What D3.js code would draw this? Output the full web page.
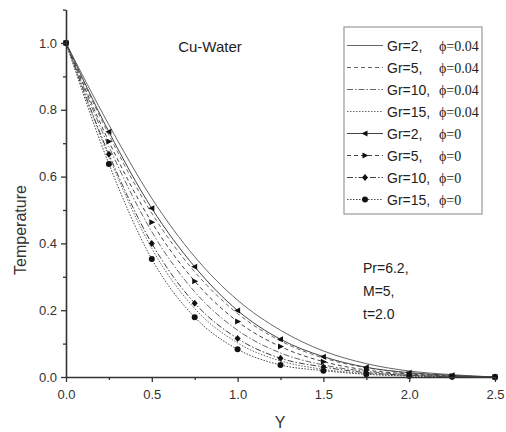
<!DOCTYPE html>
<html>
<head>
<meta charset="utf-8">
<script src="https://cdn.jsdelivr.net/npm/d3@7"></script>
<style>
  body { margin: 0; background: #fff; }
  svg { display: block; font-family: Arial, "Liberation Sans", sans-serif; }
</style>
</head>
<body>
<svg id="chart" width="506" height="432"></svg>
<script>
// Y positions shared by every curve
const yPos = [0, 0.25, 0.5, 0.75, 1.0, 1.25, 1.5, 1.75, 2.0, 2.25, 2.5];

// phi = 0.04 (no markers)
const gr2Phi004  = [1, 0.755, 0.535, 0.360, 0.230, 0.140, 0.078, 0.040, 0.018, 0.007, 0];
const gr5Phi004  = [1, 0.725, 0.490, 0.315, 0.190, 0.108, 0.057, 0.028, 0.012, 0.004, 0];
const gr10Phi004 = [1, 0.690, 0.435, 0.255, 0.140, 0.072, 0.036, 0.017, 0.007, 0.002, 0];
const gr15Phi004 = [1, 0.660, 0.385, 0.205, 0.102, 0.048, 0.023, 0.010, 0.004, 0.001, 0];

// phi = 0 (with markers)
const gr2Phi0  = [1, 0.734, 0.505, 0.330, 0.199, 0.113, 0.061, 0.029, 0.013, 0.005, 0];
const gr5Phi0  = [1, 0.705, 0.463, 0.287, 0.166, 0.091, 0.046, 0.021, 0.009, 0.003, 0];
const gr10Phi0 = [1, 0.667, 0.400, 0.221, 0.115, 0.056, 0.030, 0.013, 0.005, 0.001, 0];
const gr15Phi0 = [1, 0.638, 0.353, 0.179, 0.083, 0.036, 0.019, 0.008, 0.003, 0.001, 0];

const grLabels  = ["Gr=2,", "Gr=5,", "Gr=10,", "Gr=15,", "Gr=2,", "Gr=5,", "Gr=10,", "Gr=15,"];
const phiLabels = ["\u03d5=0.04", "\u03d5=0.04", "\u03d5=0.04", "\u03d5=0.04", "\u03d5=0", "\u03d5=0", "\u03d5=0", "\u03d5=0"];

const xTicks = [0, 0.5, 1.0, 1.5, 2.0, 2.5];
const yTicks = [0, 0.2, 0.4, 0.6, 0.8, 1.0];

const series = [
  { vals: gr2Phi004,  dash: null,          marker: null },
  { vals: gr5Phi004,  dash: "4,3",         marker: null },
  { vals: gr10Phi004, dash: "6,2,1.5,2",   marker: null },
  { vals: gr15Phi004, dash: "1.5,1.5",     marker: null },
  { vals: gr2Phi0,    dash: null,          marker: "left" },
  { vals: gr5Phi0,    dash: "4,3",         marker: "right" },
  { vals: gr10Phi0,   dash: "6,2,1.5,2",   marker: "diamond" },
  { vals: gr15Phi0,   dash: "1.5,1.5",     marker: "circle" }
];

const svg = d3.select("#chart");

const x = d3.scaleLinear().domain([0, 2.5]).range([66, 495]);
const y = d3.scaleLinear().domain([0, 1.1]).range([377, 9.6]);

const lineGen = d3.line()
  .x(d => x(d[0]))
  .y(d => y(d[1]))
  .curve(d3.curveMonotoneX);

function markerPath(type) {
  if (type === "left") return "M-3.5,0L2.5,-3L2.5,3Z";
  if (type === "right") return "M3.5,0L-2.5,-3L-2.5,3Z";
  if (type === "diamond") return "M0,-3.5L3,0L0,3.5L-3,0Z";
  return d3.symbol(d3.symbolCircle, 28)();
}

// curves
series.forEach(s => {
  const pts = yPos.map((v, i) => [v, s.vals[i]]);
  svg.append("path")
    .datum(pts)
    .attr("d", lineGen)
    .attr("fill", "none")
    .attr("stroke", s.marker ? "#444" : "#666")
    .attr("stroke-width", 1)
    .attr("stroke-dasharray", s.dash);
  if (s.marker) {
    svg.selectAll(null)
      .data(pts)
      .join("path")
      .attr("d", markerPath(s.marker))
      .attr("transform", d => `translate(${x(d[0])},${y(d[1])})`)
      .attr("fill", "#111");
  }
});

// axes
const xAxis = svg.append("g")
  .attr("transform", `translate(0,${y(0)})`)
  .call(d3.axisBottom(x).tickValues(xTicks).tickFormat(d3.format(".1f")).tickSize(5).tickSizeOuter(0));
svg.append("g")
  .attr("transform", `translate(0,${y(0)})`)
  .call(d3.axisBottom(x).tickValues(d3.range(0.25, 2.5, 0.5)).tickFormat("").tickSize(3).tickSizeOuter(0))
  .select(".domain").remove();

const yAxis = svg.append("g")
  .attr("transform", `translate(${x(0)},0)`)
  .call(d3.axisLeft(y).tickValues(yTicks).tickFormat(d3.format(".1f")).tickSize(5).tickSizeOuter(0));
svg.append("g")
  .attr("transform", `translate(${x(0)},0)`)
  .call(d3.axisLeft(y).tickValues([0.1, 0.3, 0.5, 0.7, 0.9, 1.1]).tickFormat("").tickSize(3).tickSizeOuter(0))
  .select(".domain").remove();

svg.selectAll(".domain").attr("stroke", "#333").attr("stroke-width", 1.6);
svg.selectAll(".tick line").attr("stroke", "#333").attr("stroke-width", 1.3);
xAxis.selectAll(".tick text").attr("font-size", 13).attr("fill", "#333").attr("dy", "1.1em");
yAxis.selectAll(".tick text").attr("font-size", 13).attr("fill", "#333").attr("x", -9);
xAxis.attr("font-family", null);
yAxis.attr("font-family", null);

// axis titles
svg.append("text")
  .attr("x", 280).attr("y", 428)
  .attr("text-anchor", "middle")
  .attr("font-size", 16).attr("fill", "#333")
  .text("Y");
svg.append("text")
  .attr("transform", "translate(26,230) rotate(-90)")
  .attr("text-anchor", "middle")
  .attr("font-size", 16).attr("fill", "#333")
  .text("Temperature");

// annotations
svg.append("text")
  .attr("x", 210).attr("y", 52)
  .attr("text-anchor", "middle")
  .attr("font-size", 15).attr("fill", "#222")
  .text("Cu-Water");
["Pr=6.2,", "M=5,", "t=2.0"].forEach((t, i) => {
  svg.append("text")
    .attr("x", 363).attr("y", 273 + i * 23)
    .attr("font-size", 14).attr("fill", "#222")
    .text(t);
});

// legend
const legend = svg.append("g");
legend.append("rect")
  .attr("x", 344).attr("y", 27)
  .attr("width", 138).attr("height", 187)
  .attr("fill", "#fff")
  .attr("stroke", "#999").attr("stroke-width", 1.2);

series.forEach((s, i) => {
  const ry = 45.5 + i * 22;
  legend.append("line")
    .attr("x1", 347).attr("x2", 383)
    .attr("y1", ry).attr("y2", ry)
    .attr("stroke", s.marker ? "#444" : "#666")
    .attr("stroke-width", 1)
    .attr("stroke-dasharray", s.dash);
  if (s.marker) {
    legend.append("path")
      .attr("d", markerPath(s.marker))
      .attr("transform", `translate(365,${ry})`)
      .attr("fill", "#111");
  }
  legend.append("text")
    .attr("x", 387).attr("y", ry + 5)
    .attr("font-size", 14).attr("fill", "#222")
    .text(grLabels[i]);
  legend.append("text")
    .attr("x", 439).attr("y", ry + 5)
    .attr("font-size", 14).attr("fill", "#222")
    .attr("font-family", "'Liberation Serif', 'DejaVu Serif', serif")
    .text(phiLabels[i]);
});
</script>
</body>
</html>
